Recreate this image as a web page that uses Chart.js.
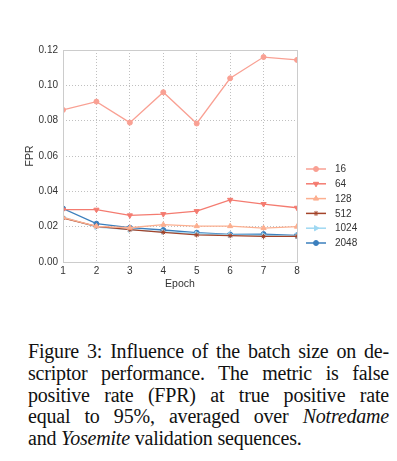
<!DOCTYPE html>
<html>
<head>
<meta charset="utf-8">
<script src="https://cdn.jsdelivr.net/npm/chart.js@4/dist/chart.umd.min.js"></script>
<style>
  html, body { margin: 0; padding: 0; background: #fff; }
  body { width: 397px; height: 461px; position: relative; overflow: hidden; }
  #wrap { position: absolute; left: 0; top: 0; width: 397px; height: 300px; }
  #caption { position: absolute; left: 28px; top: 341px; width: 361px;
    font-family: "Liberation Serif", "Times New Roman", serif; font-size: 20px; line-height: 21.8px; color: #111; letter-spacing: -0.2px; }
  #caption div { text-align: justify; text-align-last: justify; white-space: nowrap; }
  #caption div.last { text-align-last: left; }
</style>
</head>
<body>
<div id="wrap"><canvas id="c" width="397" height="300"></canvas></div>
<div id="caption">
  <div>Figure 3: Influence of the batch size on de-</div>
  <div>scriptor performance. The metric is false</div>
  <div>positive rate (FPR) at true positive rate</div>
  <div>equal to 95%, averaged over <i>Notredame</i></div>
  <div class="last">and <i>Yosemite</i> validation sequences.</div>
</div>
<script>
const epochs = [1, 2, 3, 4, 5, 6, 7, 8];
const batchSizes = ['16', '64', '128', '512', '1024', '2048'];
const fpr16   = [0.0861, 0.0908, 0.0789, 0.0961, 0.0784, 0.1040, 0.1160, 0.1144];
const fpr64   = [0.0296, 0.0296, 0.0264, 0.0271, 0.0288, 0.0352, 0.0328, 0.0307];
const fpr128  = [0.0252, 0.0202, 0.0194, 0.0211, 0.0203, 0.0203, 0.0192, 0.0200];
const fpr512  = [0.0249, 0.0202, 0.0183, 0.0168, 0.0153, 0.0149, 0.0145, 0.0145];
const fpr1024 = [0.0254, 0.0198, 0.0183, 0.0171, 0.0160, 0.0153, 0.0151, 0.0147];
const fpr2048 = [0.0303, 0.0217, 0.0194, 0.0181, 0.0166, 0.0156, 0.0158, 0.0151];
const yTicks = [0.00, 0.02, 0.04, 0.06, 0.08, 0.10, 0.12];

const series = [fpr16, fpr64, fpr128, fpr512, fpr1024, fpr2048];
const colors = ['#f9a093', '#f47b70', '#fcaf90', '#a4442a', '#9fd8f2', '#3b7fbd'];
const styles = [
  { s: 'circle', r: 2.5, rot: 0 },
  { s: 'triangle', r: 3, rot: 180 },
  { s: 'triangle', r: 3, rot: 0 },
  { s: 'star', r: 2.5, rot: 0 },
  { s: 'triangle', r: 3, rot: 90 },
  { s: 'circle', r: 2.5, rot: 0 }
];

const datasets = series.map((vals, i) => ({
  label: batchSizes[i],
  data: vals.map((v, k) => ({ x: epochs[k], y: v })),
  borderColor: colors[i],
  backgroundColor: colors[i],
  borderWidth: 1.3,
  pointStyle: styles[i].s,
  pointRadius: styles[i].r,
  pointRotation: styles[i].rot,
  pointBorderWidth: 1,
  tension: 0
}));

const tickFont = { family: 'Liberation Sans', size: 10 };
const titleFont = { family: 'Liberation Sans', size: 10.5 };

const legendPlugin = {
  id: 'customLegend',
  afterDraw(chart) {
    const ctx = chart.ctx;
    ctx.save();
    ctx.font = '10px "Liberation Sans"';
    ctx.textBaseline = 'middle';
    chart.data.datasets.forEach((ds, i) => {
      const y = 169 + i * 14.8;
      ctx.strokeStyle = ds.borderColor;
      ctx.lineWidth = 1.5;
      ctx.beginPath();
      ctx.moveTo(306, y);
      ctx.lineTo(326, y);
      ctx.stroke();
      ctx.fillStyle = ds.borderColor;
      ctx.strokeStyle = ds.borderColor;
      ctx.lineWidth = 1;
      Chart.helpers.drawPoint(ctx, { pointStyle: ds.pointStyle, radius: ds.pointRadius, rotation: ds.pointRotation, borderWidth: 1 }, 316, y);
      ctx.fillStyle = '#333';
      ctx.fillText(ds.label, 335, y + 0.5);
    });
    ctx.restore();
  }
};

const boxPlugin = {
  id: 'box',
  afterDatasetsDraw(chart) {
    const a = chart.chartArea, ctx = chart.ctx;
    ctx.save();
    ctx.strokeStyle = '#cccccc';
    ctx.lineWidth = 1;
    ctx.setLineDash([]);
    ctx.strokeRect(Math.round(a.left) + 0.5, Math.round(a.top) + 0.5, Math.round(a.right - a.left), Math.round(a.bottom - a.top));
    ctx.restore();
  }
};

new Chart(document.getElementById('c'), {
  type: 'line',
  data: { datasets },
  plugins: [legendPlugin, boxPlugin],
  options: {
    responsive: false,
    animation: false,
    layout: { padding: { left: 24, right: 100, top: 50, bottom: 10 } },
    plugins: { legend: { display: false }, tooltip: { enabled: false } },
    scales: {
      x: {
        type: 'linear', min: 1, max: 8,
        afterFit(s) { s.height = 28; },
        ticks: { stepSize: 1, font: tickFont, color: '#333', padding: 3, maxRotation: 0 },
        grid: { color: '#b0b0b0', lineWidth: 0.8, drawTicks: false, tickLength: 0 },
        border: { display: false, dash: [1, 2] },
        title: { display: true, text: 'Epoch', font: titleFont, color: '#333', padding: { top: 1, bottom: 0 } }
      },
      y: {
        min: 0, max: 0.12,
        afterFit(s) { s.width = 39; },
        afterBuildTicks(s) { s.ticks = yTicks.map(v => ({ value: v })); },
        ticks: { font: tickFont, color: '#333', padding: 5, callback: v => v.toFixed(2) },
        grid: { color: '#b0b0b0', lineWidth: 0.8, drawTicks: false },
        border: { display: false, dash: [1, 2] },
        title: { display: true, text: 'FPR', font: titleFont, color: '#333', padding: { top: 0, bottom: 0 } }
      }
    }
  }
});
</script>
</body>
</html>
